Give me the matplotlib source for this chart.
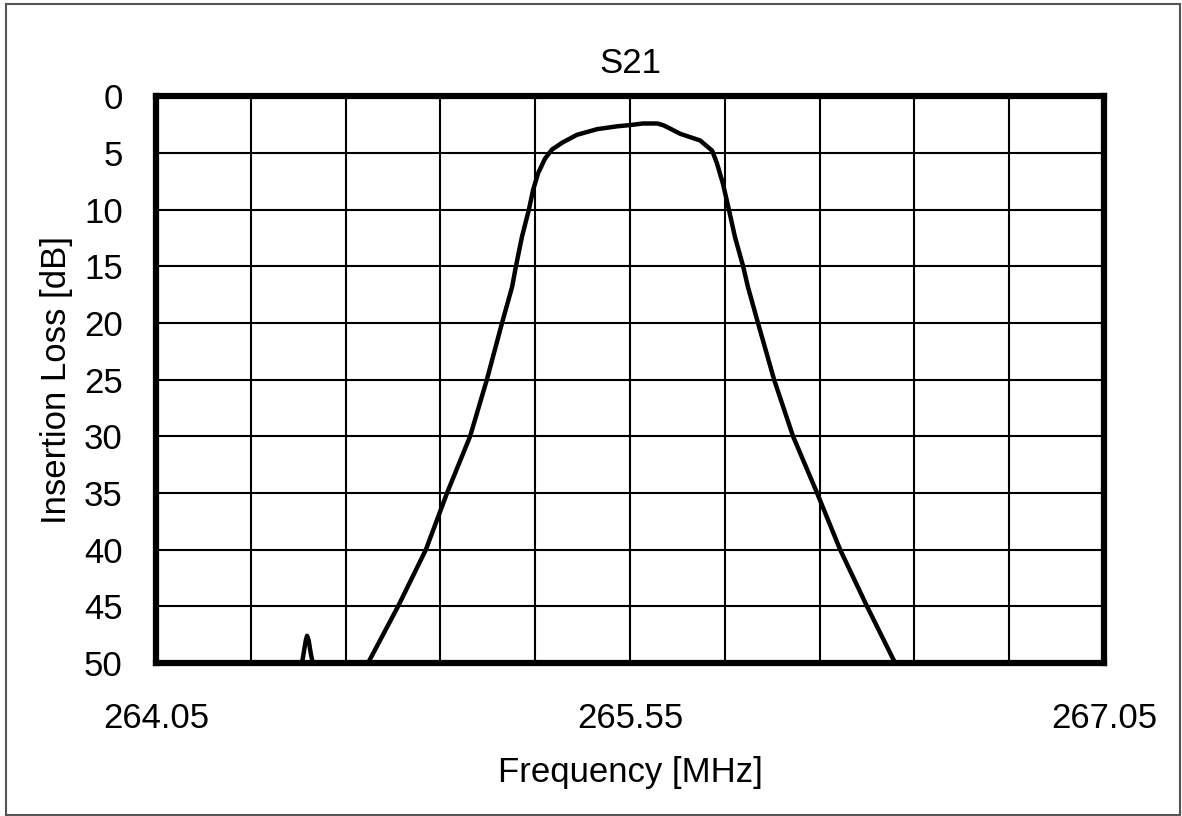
import matplotlib
matplotlib.use("Agg")
import matplotlib.pyplot as plt
from matplotlib.patches import Rectangle
import numpy as np

plt.rcParams['font.family'] = ['Liberation Sans', 'DejaVu Sans']

# S21 trace (MHz, dB insertion loss)
freq_main = [264.721, 264.816, 264.904, 264.971, 265.044, 265.097, 265.145,
             265.177, 265.189, 265.208, 265.230, 265.243, 265.259, 265.281,
             265.303, 265.335, 265.382, 265.446, 265.509, 265.547, 265.591,
             265.636, 265.655, 265.677, 265.708, 265.772, 265.810, 265.825,
             265.844, 265.863, 265.882, 265.908, 265.923, 265.955, 266.006,
             266.066, 266.142, 266.215, 266.300, 266.389]
loss_main = [50.0, 45.0, 40.0, 35.0, 30.0, 25.0, 20.0,
             16.8, 15.0, 12.4, 10.0, 8.3, 6.8, 5.5,
             4.7, 4.1, 3.4, 2.9, 2.65, 2.55, 2.4,
             2.4, 2.55, 2.85, 3.3, 3.9, 4.8, 5.9,
             7.7, 10.0, 12.4, 15.0, 16.8, 20.0, 25.0,
             30.0, 35.0, 40.0, 45.0, 50.0]

# small spurious response on the low side
freq_spur = [264.512, 264.518, 264.524, 264.528, 264.533, 264.540, 264.546]
loss_spur = [50.0, 49.0, 48.0, 47.6, 48.0, 49.2, 50.0]

x_ticks = [264.05, 265.55, 267.05]
x_grid = np.arange(10 + 1) * 0.3 + 264.05
y_ticks = list(range(0, 55, 5))

fig = plt.figure(figsize=(11.82, 8.16), dpi=100)
ax = fig.add_axes([0.132, 0.1875, 0.802, 0.6945])

ax.plot(freq_main, loss_main, color='black', linewidth=3.2,
        solid_joinstyle='round')
ax.plot(freq_spur, loss_spur, color='black', linewidth=3.2,
        solid_joinstyle='round')

ax.set_xlim(264.05, 267.05)
ax.set_ylim(50, 0)
ax.set_xticks(x_ticks)
ax.set_xticklabels([f"{v:.2f}" for v in x_ticks])
ax.set_xticks(x_grid, minor=True)
ax.set_yticks(y_ticks)

ax.grid(True, which='both', color='black', linewidth=1.5)
ax.tick_params(which='both', length=0, labelsize=25)
ax.tick_params(axis='x', pad=28)
ax.tick_params(axis='y', pad=24)
for s in ax.spines.values():
    s.set_linewidth(4.5)
    s.set_zorder(5)

ax.set_title("S21", fontsize=25, pad=17)
ax.set_xlabel("Frequency [MHz]", fontsize=25, labelpad=15)
ax.set_ylabel("Insertion Loss [dB]", fontsize=25, labelpad=8)

fig.patches.append(Rectangle((6 / 1182, 1 / 816), 1174 / 1182, 811 / 816,
                             transform=fig.transFigure, fill=False,
                             edgecolor='#555555', linewidth=1.5))

fig.savefig("out.png", dpi=100)
